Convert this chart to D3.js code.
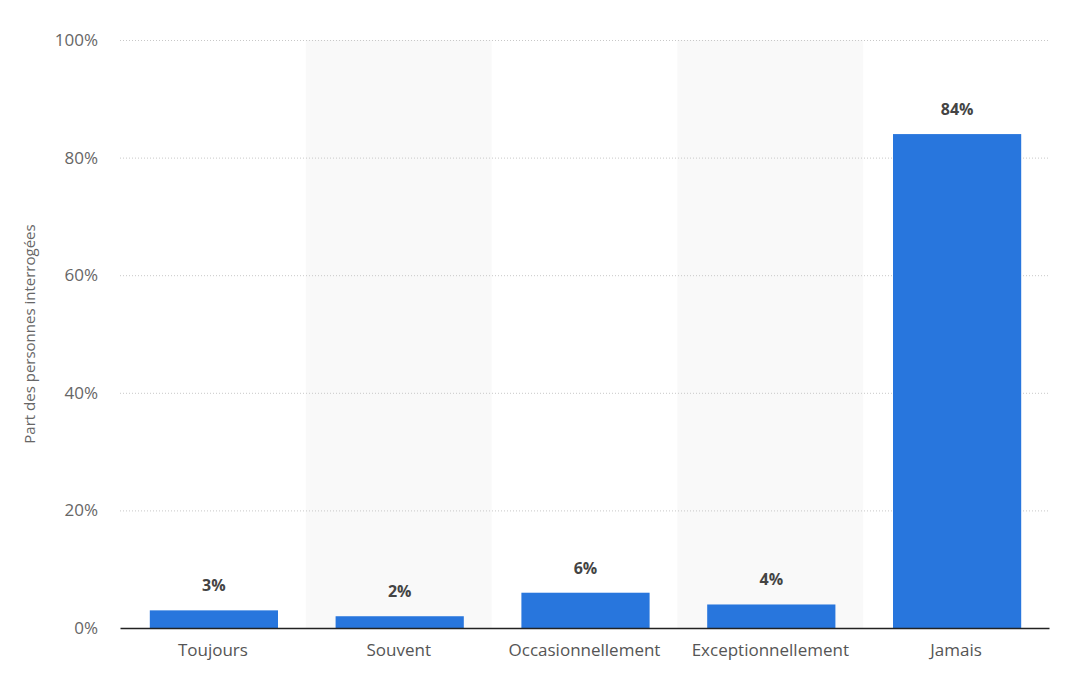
<!doctype html>
<html lang="fr">
<head>
<meta charset="utf-8">
<title>Part des personnes interrogées</title>
<script src="https://cdn.jsdelivr.net/npm/d3@7"></script>
<style>
  body { margin: 0; background: #fff; font-family: "Open Sans", sans-serif; }
</style>
</head>
<body>
<svg id="chart" width="1072" height="696"></svg>
<script>
// data
const categories = ["Toujours", "Souvent", "Occasionnellement", "Exceptionnellement", "Jamais"];
const values = [3, 2, 6, 4, 84];
const yTicks = [0, 20, 40, 60, 80, 100];

const svg = d3.select("#chart");
const margin = { top: 40, right: 23, bottom: 68, left: 120 };
const width = 1072 - margin.left - margin.right;
const height = 696 - margin.top - margin.bottom;

const g = svg.append("g").attr("transform", `translate(${margin.left},${margin.top})`);

const x = d3.scaleBand().domain(categories).range([0, width]).padding(0);
const y = d3.scaleLinear().domain([0, 100]).range([height, 0]);
const barW = x.bandwidth() * 0.69;

// alternating shaded bands
g.selectAll(".band")
  .data(categories.filter((d, i) => i % 2 === 1))
  .enter().append("rect")
  .attr("x", d => x(d))
  .attr("y", 0)
  .attr("width", x.bandwidth())
  .attr("height", height)
  .attr("fill", "#f9f9f9");

// grid lines
g.selectAll(".grid")
  .data(yTicks.filter(t => t > 0))
  .enter().append("line")
  .attr("x1", 0).attr("x2", width)
  .attr("y1", d => y(d) + 0.5).attr("y2", d => y(d) + 0.5)
  .attr("stroke", "#c8c8c8")
  .attr("stroke-dasharray", "1,2");

// y axis labels
const yAxis = g.append("g").call(d3.axisLeft(y).tickValues(yTicks).tickFormat(d => d + "%").tickSize(0).tickPadding(22));
yAxis.select(".domain").remove();
yAxis.selectAll("text")
  .attr("font-family", "Open Sans, sans-serif")
  .attr("font-size", 17)
  .attr("fill", "#666");

// bars
g.selectAll(".bar")
  .data(values)
  .enter().append("rect")
  .attr("x", (d, i) => x(categories[i]) + (x.bandwidth() - barW) / 2 + 1)
  .attr("y", d => y(d))
  .attr("width", barW)
  .attr("height", d => height - y(d))
  .attr("fill", "#2876dd");

// value labels
g.selectAll(".val")
  .data(values)
  .enter().append("text")
  .attr("x", (d, i) => x(categories[i]) + x.bandwidth() / 2 + 1)
  .attr("y", d => y(d) - 19)
  .attr("text-anchor", "middle")
  .attr("font-size", 16)
  .attr("font-weight", "bold")
  .attr("fill", "#444")
  .text(d => d + "%");

// x axis
const xAxis = g.append("g")
  .attr("transform", `translate(0,${height})`)
  .call(d3.axisBottom(x).tickSize(0).tickPadding(16));
xAxis.select(".domain").attr("stroke", "#222").attr("stroke-width", 1.5);
xAxis.selectAll("text")
  .attr("font-family", "Open Sans, sans-serif")
  .attr("font-size", 17)
  .attr("fill", "#555");

// y axis title
svg.append("text")
  .attr("transform", `translate(35,${margin.top + height / 2}) rotate(-90)`)
  .attr("text-anchor", "middle")
  .attr("font-size", 15)
  .attr("fill", "#666")
  .text("Part des personnes interrogées");
</script>
</body>
</html>
